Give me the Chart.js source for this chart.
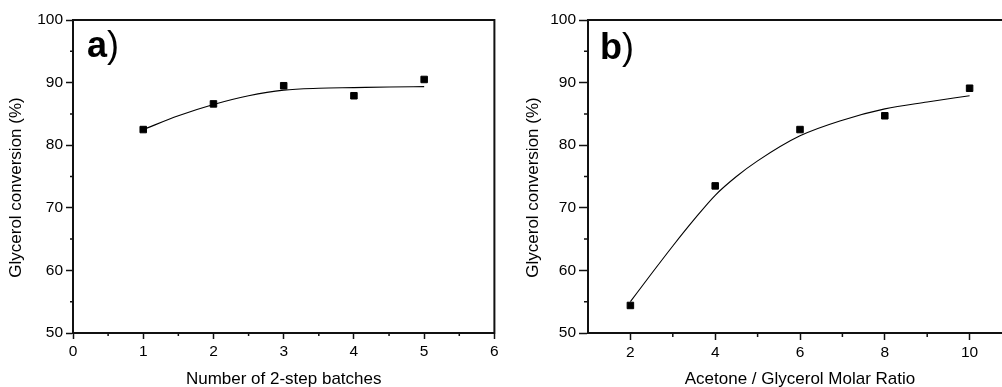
<!DOCTYPE html>
<html>
<head>
<meta charset="utf-8">
<script src="https://cdn.jsdelivr.net/npm/chart.js@4/dist/chart.umd.min.js"></script>
<style>
  html, body { margin: 0; padding: 0; background: #fff; width: 1002px; height: 387px; overflow: hidden; }
  #pa { position: absolute; left: 0; top: 0; }
  #pb { position: absolute; left: 500px; top: 0; }
</style>
</head>
<body>
<canvas id="pa" width="500" height="387"></canvas>
<canvas id="pb" width="524" height="387"></canvas>
<script>
// ---- Panel a data ----
const aBatches = [1, 2, 3, 4, 5];
const aConversion = [82.5, 86.6, 89.5, 87.9, 90.5];
const aFitX = [1, 1.5, 2, 2.5, 3, 3.5, 4, 4.5, 5];
const aFitY = [82.5, 84.7, 86.5, 87.9, 88.8, 89.1, 89.2, 89.3, 89.35];
const aTicksX = [0, 1, 2, 3, 4, 5, 6];
const aMinorX = [0.5, 1.5, 2.5, 3.5, 4.5, 5.5];
const aXTitle = 'Number of 2-step batches';

// ---- Panel b data ----
const bRatio = [2, 4, 6, 8, 10];
const bConversion = [54.4, 73.5, 82.5, 84.7, 89.1];
const bFitX = [2, 2.5, 3, 3.5, 4, 4.5, 5, 6, 7, 8, 9, 10];
const bFitY = [55.0, 59.5, 63.9, 68.1, 72.0, 75.0, 77.5, 81.5, 84.0, 85.8, 86.9, 87.9];
const bTicksX = [2, 4, 6, 8, 10];
const bMinorX = [3, 5, 7, 9];
const bXTitle = 'Acetone / Glycerol Molar Ratio';

// ---- shared y axis ----
const yTicks = [50, 60, 70, 80, 90, 100];
const yMinor = [55, 65, 75, 85, 95];
const yTitle = 'Glycerol conversion (%)';

const FONT = "'Liberation Sans', Arial, sans-serif";
const INK = '#111';

const decor = {
  id: 'decor',
  afterDraw(chart, args, o) {
    const ctx = chart.ctx;
    const ca = chart.chartArea;
    const xs = chart.scales.x, ys = chart.scales.y;
    ctx.save();
    ctx.strokeStyle = INK;
    // top and right frame
    ctx.lineWidth = 2;
    ctx.beginPath();
    ctx.moveTo(ca.left - 1, ca.top);
    ctx.lineTo(ca.right, ca.top);
    ctx.lineTo(ca.right, ca.bottom + 1);
    ctx.stroke();
    // minor ticks
    ctx.lineWidth = 1.5;
    ctx.beginPath();
    o.minorX.forEach(v => {
      const px = xs.getPixelForValue(v);
      ctx.moveTo(px, ca.bottom);
      ctx.lineTo(px, ca.bottom + o.minorLen);
    });
    o.minorY.forEach(v => {
      const py = ys.getPixelForValue(v);
      ctx.moveTo(ca.left, py);
      ctx.lineTo(ca.left - o.minorLen, py);
    });
    ctx.stroke();
    // y title
    ctx.fillStyle = '#000';
    ctx.font = '17px ' + FONT;
    ctx.textAlign = 'center';
    ctx.textBaseline = 'alphabetic';
    ctx.translate(o.yTitleX, o.yTitleY);
    ctx.rotate(-Math.PI / 2);
    ctx.fillText(yTitle, 0, 0);
    ctx.setTransform(1, 0, 0, 1, 0, 0);
    // panel label
    ctx.textAlign = 'left';
    ctx.font = 'bold 36px ' + FONT;
    ctx.fillText(o.letter, o.lx, o.ly);
    const w = ctx.measureText(o.letter).width;
    ctx.font = '36px ' + FONT;
    ctx.fillText(')', o.lx + w, o.ly);
    ctx.restore();
  }
};

function makeChart(id, cfg) {
  const xs = cfg.px.map((x, i) => ({ x: x, y: cfg.py[i] }));
  const fit = cfg.fx.map((x, i) => ({ x: x, y: cfg.fy[i] }));
  return new Chart(document.getElementById(id), {
    type: 'scatter',
    data: {
      datasets: [
        { data: xs, pointStyle: 'rect', pointRadius: 4.6, borderWidth: 1,
          backgroundColor: '#000', borderColor: '#000', showLine: false },
        { data: fit, showLine: true, pointRadius: 0, borderWidth: 1.1,
          borderColor: '#000', cubicInterpolationMode: 'monotone', fill: false }
      ]
    },
    options: {
      responsive: false,
      animation: false,
      devicePixelRatio: 1,
      layout: { padding: { top: 20, right: cfg.padRight, left: 0, bottom: 0 } },
      plugins: {
        legend: { display: false },
        tooltip: { enabled: false },
        decor: cfg.decor
      },
      scales: {
        x: {
          type: 'linear', position: 'bottom', min: cfg.xmin, max: cfg.xmax,
          afterBuildTicks: s => { s.ticks = cfg.ticksX.map(v => ({ value: v })); },
          afterFit: s => { s.height = 54; s.paddingLeft = 0; s.paddingRight = 0; },
          border: { display: true, color: INK, width: 2 },
          grid: { drawOnChartArea: false, drawTicks: true, tickLength: cfg.xTickLen, tickColor: INK, tickWidth: 1.5 },
          ticks: { color: '#000', font: { family: FONT, size: 15.5 }, padding: 3, maxRotation: 0,
                   callback: v => String(v) },
          title: { display: true, text: cfg.xTitle, color: '#000',
                   font: { family: FONT, size: 17, lineHeight: 0.9 }, padding: { top: 0, bottom: 0 } }
        },
        y: {
          type: 'linear', position: 'left', min: 50, max: 100,
          afterBuildTicks: s => { s.ticks = yTicks.map(v => ({ value: v })); },
          afterFit: s => { s.width = cfg.yWidth; s.paddingTop = 0; s.paddingBottom = 0; },
          border: { display: true, color: INK, width: 2 },
          grid: { drawOnChartArea: false, drawTicks: true, tickLength: cfg.yTickLen, tickColor: INK, tickWidth: 1.5 },
          ticks: { color: '#000', font: { family: FONT, size: 15.5 }, padding: 3,
                   callback: v => String(v) },
          title: { display: false }
        }
      }
    },
    plugins: [decor]
  });
}

makeChart('pa', {
  px: aBatches, py: aConversion, fx: aFitX, fy: aFitY,
  ticksX: aTicksX, xmin: 0, xmax: 6, xTitle: aXTitle,
  padRight: 2, yWidth: 73, xTickLen: 6, yTickLen: 7,
  decor: { minorX: aMinorX, minorY: yMinor, minorLen: 3, yTitleX: 21.4, yTitleY: 187.5,
           letter: 'a', lx: 87, ly: 57 }
});

makeChart('pb', {
  px: bRatio, py: bConversion, fx: bFitX, fy: bFitY,
  ticksX: bTicksX, xmin: 1, xmax: 11, xTitle: bXTitle,
  padRight: 12, yWidth: 88, xTickLen: 7, yTickLen: 9,
  decor: { minorX: bMinorX, minorY: yMinor, minorLen: 4, yTitleX: 38, yTitleY: 187.5,
           letter: 'b', lx: 100, ly: 58.5 }
});
</script>
</body>
</html>
